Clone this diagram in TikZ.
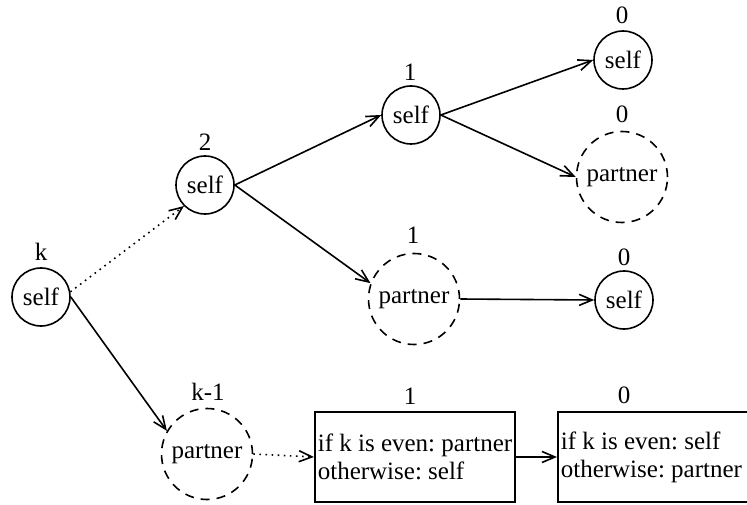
\documentclass[tikz,border=0pt]{standalone}
\usepackage{fontspec}
\setmainfont{Liberation Serif}
\usetikzlibrary{arrows.meta}
\frenchspacing
\hyphenpenalty=10000
\begin{document}
\begin{tikzpicture}[x=1pt,y=-1pt,
  every node/.style={font=\fontsize{25}{28}\selectfont},
  selfnode/.style={draw, circle, line width=1.6pt, minimum size=58pt, inner sep=0pt},
  partnernode/.style={draw, circle, line width=1.6pt, dash pattern=on 9pt off 7pt, minimum size=91pt, inner sep=0pt},
  boxnode/.style={draw, rectangle, line width=1.6pt, minimum height=90pt, inner xsep=3pt, align=left, anchor=west},
  lbl/.style={inner sep=0pt},
  conn/.style={line width=1.6pt, -{Straight Barb[length=13pt,width=11pt,line width=1.6pt]}},
  dotconn/.style={conn, dash pattern=on 1.6pt off 4.5pt},
]
\useasboundingbox (0,0) rectangle (747,505);
\node[selfnode] (sk) at (41,297) {self};
\node[lbl] (lk) at (41,252) {k};
\node[selfnode] (s2) at (205,185) {self};
\node[lbl] (l2) at (205,142) {2};
\node[selfnode] (s1) at (411,115) {self};
\node[lbl] (l1) at (410,72) {1};
\node[selfnode] (s0a) at (623,60) {self};
\node[lbl] (l0a) at (622,15) {0};
\node[partnernode] (p0) at (622,177) {partner};
\node[lbl] (l0b) at (622,114) {0};
\node[partnernode] (p1) at (414,299) {partner};
\node[lbl] (lp1) at (413,235) {1};
\node[selfnode] (s0b) at (624,300) {self};
\node[lbl] (l0c) at (624,257) {0};
\node[partnernode] (pk) at (207,454) {partner};
\node[lbl] (lpk) at (208,392) {k-1};
\node[boxnode] (b1) at (314,457) {if k is even: partner\\otherwise: self};
\node[lbl] (lb1) at (410,396) {1};
\node[boxnode] (b2) at (557,457) {if k is even: self\\otherwise: partner\hspace*{6pt}};
\node[lbl] (lb2) at (624,395) {0};
\draw[dotconn] (sk.10) -- (s2.225);
\draw[conn] (sk.east) -- (pk.150);
\draw[conn] (s2.east) -- (s1.west);
\draw[conn] (s2.east) -- (p1.160);
\draw[conn] (s1.east) -- (s0a.west);
\draw[conn] (s1.east) -- (p0.west);
\draw[conn] (p1.east) -- (s0b.west);
\draw[dotconn] (pk.east) -- (b1.west);
\draw[conn] (b1.east) -- (b2.west);
\end{tikzpicture}
\end{document}
